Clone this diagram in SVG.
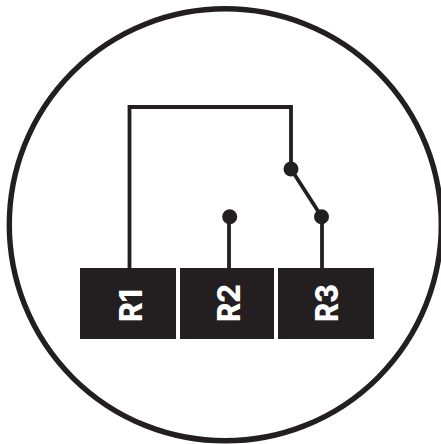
<svg xmlns="http://www.w3.org/2000/svg" width="441" height="444" viewBox="0 0 441 444">
<style>
.w{fill:none;stroke:#231f20;stroke-width:3.8}
.d{fill:#231f20}
.t{fill:#fff;font-family:Inter,"Liberation Sans",Arial,sans-serif;font-weight:800;font-size:31.5px}
</style>
<rect width="441" height="444" fill="#fff"/>
<circle id="ring" cx="225.3" cy="224.8" r="216" fill="none" stroke="#231f20" stroke-width="5.4"/>
<g id="connectors">
<path class="w" d="M129.5 268V107H291V169"/>
<path class="w" d="M229 268V216.5"/>
<path class="w" d="M322 268V216.5"/>
<path class="w" d="M291 169L321.5 216.5"/>
</g>
<g id="R1"><rect class="d" x="80" y="268" width="96" height="71"/><text class="t" transform="translate(142 322) rotate(-90)" textLength="33" lengthAdjust="spacingAndGlyphs">R1</text></g>
<g id="R2"><rect class="d" x="180" y="268" width="94" height="71"/><text class="t" transform="translate(240 322) rotate(-90)" textLength="38" lengthAdjust="spacingAndGlyphs">R2</text></g>
<g id="R3"><rect class="d" x="278" y="268" width="96" height="71"/><text class="t" transform="translate(338 322) rotate(-90)" textLength="38" lengthAdjust="spacingAndGlyphs">R3</text></g>
<g id="contact-common"><circle class="d" cx="291" cy="169" r="7.5"/></g>
<g id="contact-r2"><circle class="d" cx="229.7" cy="216.7" r="7.5"/></g>
<g id="contact-r3"><circle class="d" cx="321.5" cy="216.7" r="7.5"/></g>
</svg>
